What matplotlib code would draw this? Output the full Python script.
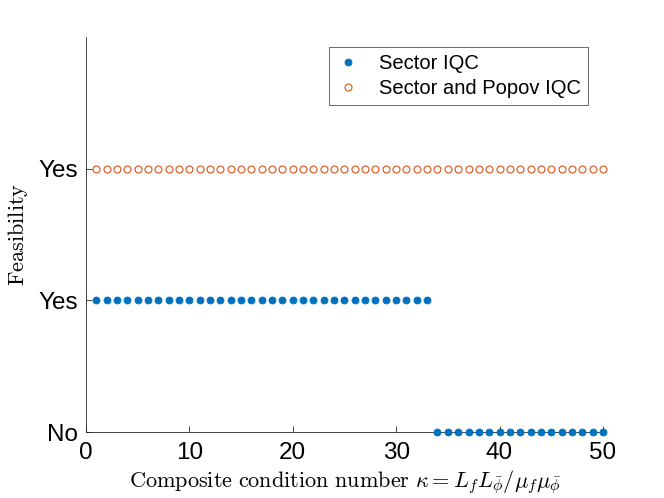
import numpy as np
import matplotlib.pyplot as plt

plt.rcParams['mathtext.fontset'] = 'cm'

# data
kappa = np.arange(1, 51)
sector_feas = [1]*33 + [0]*17
popov_feas = [2]*50
ytick_pos = [0, 1, 2]
ytick_lbl = ['No', 'Yes', 'Yes']

fig = plt.figure(figsize=(6.64, 4.98), dpi=100)
ax = fig.add_axes([0.1295, 0.1325, 0.7785, 0.7932])

ax.plot(kappa, sector_feas, 'o', color='#0072BD', markersize=5, markeredgewidth=0.6,
        label='Sector IQC', clip_on=False, zorder=3)
ax.plot(kappa, popov_feas, 'o', color='#D95319', markerfacecolor='none', markersize=5,
        markeredgewidth=0.8, label='Sector and Popov IQC', clip_on=False, zorder=3)

ax.set_xlim(0, 50)
ax.set_ylim(0, 3)
ax.set_xticks(range(0, 51, 10))
ax.set_yticks(ytick_pos)
ax.set_yticklabels(ytick_lbl)
for s in ['top', 'right']:
    ax.spines[s].set_visible(False)
for s in ['left', 'bottom']:
    ax.spines[s].set_color('#262626')
    ax.spines[s].set_linewidth(0.6)
ax.tick_params(direction='in', length=4, width=0.6, colors='#262626', labelcolor='black',
               labelsize=17.5)
ax.tick_params(axis='x', pad=7)
ax.tick_params(axis='y', pad=6)
for t in ax.get_xticklabels() + ax.get_yticklabels():
    t.set_family('Liberation Sans')

ax.set_xlabel(r'$\mathrm{Composite\ condition\ number}\ \kappa = L_f L_{\bar{\phi}}/\mu_f \mu_{\bar{\phi}}$',
              fontsize=16, labelpad=3)
ax.set_ylabel(r'$\mathrm{Feasibility}$', fontsize=16, labelpad=6)

leg = ax.legend(loc='upper right', bbox_to_anchor=(0.982, 0.99), prop={'family': 'Liberation Sans', 'size': 14.5},
                fancybox=False, edgecolor='#262626', handlelength=1.2, handletextpad=0.9,
                borderpad=0.35, labelspacing=0.3, borderaxespad=0.3)
leg.get_frame().set_linewidth(0.6)

fig.savefig('out.png', dpi=100)
